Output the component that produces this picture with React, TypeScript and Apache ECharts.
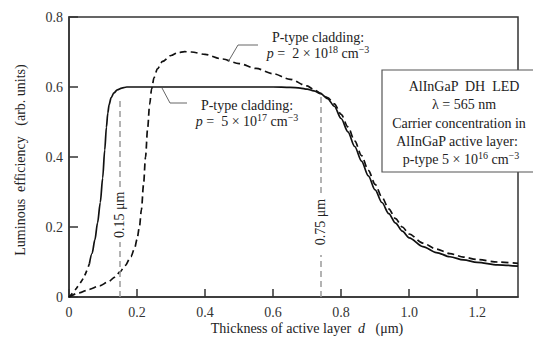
import React, { useEffect, useRef } from "react";
import * as echarts from "echarts";

// Solid curve (p = 5e17): extrapolated (dashed) start and measured part
const solidStartX = [0, 0.022, 0.044, 0.06];
const solidStartY = [0, 0.025, 0.057, 0.095];
const solidX = [0.06, 0.068, 0.076, 0.084, 0.092, 0.099, 0.105, 0.11, 0.114, 0.118, 0.124, 0.132, 0.142, 0.155, 0.17, 0.2, 0.3, 0.4, 0.5, 0.6, 0.65, 0.68, 0.7, 0.72, 0.74, 0.76, 0.78, 0.8, 0.82, 0.84, 0.86, 0.88, 0.9, 0.92, 0.94, 0.96, 0.98, 1.0, 1.04, 1.08, 1.12, 1.16, 1.2, 1.26, 1.32];
const solidY = [0.095, 0.125, 0.163, 0.212, 0.27, 0.34, 0.42, 0.485, 0.525, 0.55, 0.57, 0.583, 0.592, 0.597, 0.6, 0.6, 0.6, 0.6, 0.6, 0.6, 0.599, 0.597, 0.594, 0.589, 0.581, 0.567, 0.545, 0.51, 0.472, 0.43, 0.388, 0.346, 0.306, 0.27, 0.238, 0.211, 0.188, 0.169, 0.144, 0.127, 0.115, 0.106, 0.099, 0.092, 0.088];

// Dashed curve (p = 2e18)
const dashX = [0, 0.03, 0.06, 0.09, 0.115, 0.135, 0.15, 0.165, 0.182, 0.193, 0.2, 0.207, 0.213, 0.219, 0.225, 0.231, 0.237, 0.243, 0.25, 0.26, 0.275, 0.3, 0.32, 0.34, 0.36, 0.4, 0.45, 0.5, 0.55, 0.6, 0.65, 0.7, 0.72, 0.74, 0.76, 0.78, 0.8, 0.82, 0.84, 0.86, 0.88, 0.9, 0.92, 0.94, 0.96, 0.98, 1.0, 1.04, 1.08, 1.12, 1.16, 1.2, 1.26, 1.32];
const dashY = [0, 0.012, 0.022, 0.032, 0.043, 0.057, 0.072, 0.09, 0.115, 0.14, 0.165, 0.2, 0.25, 0.32, 0.4, 0.48, 0.55, 0.595, 0.627, 0.652, 0.673, 0.69, 0.698, 0.701, 0.7, 0.693, 0.68, 0.667, 0.653, 0.638, 0.622, 0.603, 0.593, 0.582, 0.57, 0.552, 0.522, 0.486, 0.446, 0.404, 0.362, 0.322, 0.285, 0.252, 0.224, 0.2, 0.18, 0.154, 0.137, 0.124, 0.114, 0.107, 0.1, 0.096];

// Reference thickness markers
const markerThickness = [0.148, 0.74];
const markerLabels = ["0.15 μm", "0.75 μm"];
const markerTop = [0.571, 0.575];
const markerGapLow = [0.157, 0.12];
const markerGapHigh = [0.314, 0.297];
const markerLabelY = [0.235, 0.214];

const X_MIN = 0;
const X_MAX = 1.32;
const Y_MIN = 0;
const Y_MAX = 0.8;
const TICK_STEP = 0.2;

const FONT = "Liberation Serif";
const TXT = "#222";

const zip = (xs: number[], ys: number[]) => xs.map((x, i) => [x, ys[i]]);

const richBase = {
  n: { fontFamily: FONT, fontSize: 14, fill: TXT, lineHeight: 16, verticalAlign: "bottom" },
  i: { fontFamily: FONT, fontSize: 14, fill: TXT, lineHeight: 16, fontStyle: "italic", verticalAlign: "bottom" },
  s: { fontFamily: FONT, fontSize: 10, fill: TXT, lineHeight: 10, verticalAlign: "top" },
};

function textEl(x: number, y: number, text: string, align: string = "center", extra: any = {}) {
  return {
    type: "text",
    x,
    y,
    z: 100,
    silent: true,
    ...extra,
    style: {
      text,
      rich: richBase,
      fill: TXT,
      font: `14px "${FONT}"`,
      textAlign: align,
      textVerticalAlign: "middle",
    },
  };
}

export default function App() {
  const ref = useRef<HTMLDivElement>(null);

  useEffect(() => {
    if (!ref.current) return;
    const chart = echarts.init(ref.current, undefined, { renderer: "svg" });

    const markLineData: any[] = [];
    const markPointData: any[] = [];
    markerThickness.forEach((d, k) => {
      markLineData.push([{ coord: [d, 0] }, { coord: [d, markerGapLow[k]] }]);
      markLineData.push([{ coord: [d, markerGapHigh[k]] }, { coord: [d, markerTop[k]] }]);
      markPointData.push({
        coord: [d, markerLabelY[k]],
        label: { formatter: markerLabels[k] },
      });
    });

    const axisLabel = {
      fontFamily: FONT,
      fontSize: 14,
      color: "#333",
      formatter: (v: number) => (v === 0 ? "0" : v.toFixed(1)),
    };

    chart.setOption({
      animation: false,
      backgroundColor: "#fff",
      grid: {
        left: 69,
        right: 15,
        top: 17,
        bottom: 48,
        show: true,
        borderColor: "#333",
        borderWidth: 1.5,
        backgroundColor: "transparent",
      },
      xAxis: {
        type: "value",
        min: X_MIN,
        max: X_MAX,
        interval: TICK_STEP,
        splitLine: { show: false },
        axisLine: { lineStyle: { color: "#333", width: 1.5 } },
        axisTick: { inside: true, length: 8, lineStyle: { color: "#333", width: 1.5 } },
        axisLabel: { ...axisLabel, margin: 8, showMaxLabel: false },
      },
      yAxis: {
        type: "value",
        min: Y_MIN,
        max: Y_MAX,
        interval: TICK_STEP,
        splitLine: { show: false },
        axisLine: { lineStyle: { color: "#333", width: 1.5 } },
        axisTick: { inside: true, length: 9, lineStyle: { color: "#333", width: 1.5 } },
        axisLabel: { ...axisLabel, margin: 6 },
      },
      series: [
        {
          type: "line",
          data: zip(solidStartX, solidStartY),
          symbol: "none",
          smooth: 0.3,
          silent: true,
          lineStyle: { color: "#111", width: 1.7, type: [5, 4] },
        },
        {
          type: "line",
          data: zip(solidX, solidY),
          symbol: "none",
          smooth: 0.3,
          smoothMonotone: "x",
          silent: true,
          lineStyle: { color: "#111", width: 1.7 },
          markLine: {
            silent: true,
            symbol: ["none", "none"],
            label: { show: false },
            lineStyle: { color: "#9a9a9a", width: 1.5, type: [6, 4] },
            data: markLineData,
          },
          markPoint: {
            silent: true,
            symbol: "circle",
            symbolSize: 1,
            itemStyle: { color: "transparent" },
            label: {
              show: true,
              position: "inside",
              rotate: 90,
              fontFamily: FONT,
              fontSize: 14,
              color: TXT,
            },
            data: markPointData,
          },
        },
        {
          type: "line",
          data: zip(dashX, dashY),
          symbol: "none",
          smooth: 0.3,
          smoothMonotone: "x",
          silent: true,
          lineStyle: { color: "#111", width: 1.7, type: [7, 4] },
        },
      ],
      graphic: [
        // leader lines
        {
          type: "polyline",
          z: 100,
          silent: true,
          shape: { points: [[228, 62], [238, 45], [258, 45]] },
          style: { stroke: "#666", fill: null, lineWidth: 1 },
        },
        {
          type: "polyline",
          z: 100,
          silent: true,
          shape: { points: [[162, 88], [170, 103], [187, 103]] },
          style: { stroke: "#666", fill: null, lineWidth: 1 },
        },
        // annotation texts (two lines each)
        textEl(318, 44, "{n|P-type cladding:}\n{i|p}{n| =  2 × 10}{s|18}{n| cm}{s|−3}"),
        textEl(247, 112, "{n|P-type cladding:}\n{i|p}{n| =  5 × 10}{s|17}{n| cm}{s|−3}"),
        // info box
        {
          type: "rect",
          z: 99,
          silent: true,
          shape: { x: 382, y: 70, width: 175, height: 102 },
          style: { fill: "#fff", stroke: "#555", lineWidth: 1.2 },
        },
        textEl(464, 85, "{n|AlInGaP  DH  LED}"),
        textEl(464, 103, "{n|λ = 565 nm}"),
        textEl(459, 122, "{n|Carrier concentration in}"),
        textEl(457, 140, "{n|AlInGaP active layer:}"),
        textEl(461, 158, "{n|p-type 5 × 10}{s|16}{n| cm}{s|−3}"),
        // axis titles
        textEl(307, 327, "{n|Thickness of active layer  }{i|d}{n|   (μm)}"),
        textEl(19, 160, "{n|Luminous  efficiency   (arb. units)}", "center", { rotation: Math.PI / 2 }),
      ],
    });

    return () => chart.dispose();
  }, []);

  return (
    <div
      ref={ref}
      style={{ position: "fixed", left: 0, top: 0, width: 533, height: 345, background: "#fff" }}
    />
  );
}
